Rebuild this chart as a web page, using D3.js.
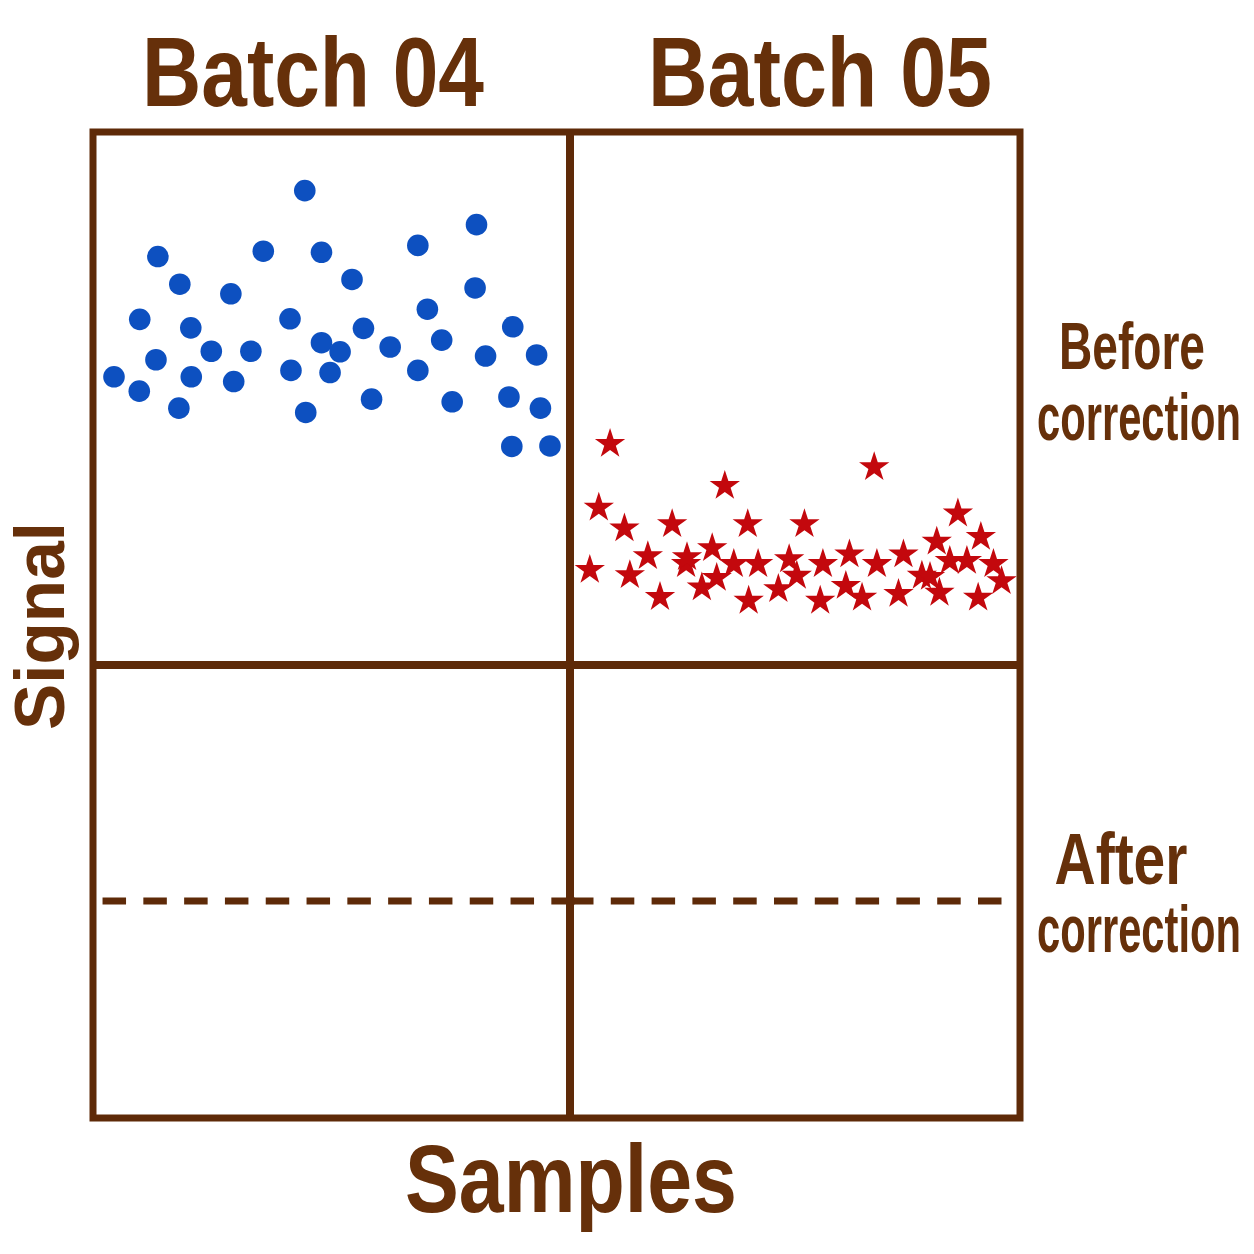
<!DOCTYPE html>
<html>
<head>
<meta charset="utf-8">
<script src="https://cdn.jsdelivr.net/npm/d3@7"></script>
<style>
  html, body { margin: 0; padding: 0; background: #fff; }
  svg { display: block; }
  .lbl { font-family: "Liberation Sans", Arial, sans-serif; font-weight: bold; fill: #66300a; }
</style>
</head>
<body>
<div id="chart"></div>
<script>
// batches (columns) and correction state (rows)
const batches = ['Batch 04', 'Batch 05']
const rowLabels = [['Before', 'correction'], ['After', 'correction']]

// Batch 04 before correction: [sample position 0-100 within batch, signal 0-100]
const batch04Before = [
  [44.4, 88.8], [80.4, 82.4], [68.1, 78.5], [13.6, 76.4], [35.7, 77.4],
  [47.9, 77.2], [54.3, 72.1], [18.2, 71.2], [28.9, 69.4], [80.1, 70.5],
  [70.1, 66.5], [9.8, 64.6], [41.3, 64.7], [20.5, 63.0], [56.7, 62.9],
  [88.0, 63.2], [73.1, 60.7], [47.9, 60.2], [51.8, 58.5], [62.3, 59.4],
  [24.8, 58.6], [33.1, 58.6], [13.2, 57.0], [82.3, 57.7], [93.0, 57.9],
  [4.4, 53.8], [20.6, 53.8], [41.5, 55.0], [49.7, 54.6], [68.1, 55.0],
  [9.7, 51.1], [29.5, 52.9], [58.4, 49.6], [75.3, 49.1], [87.2, 50.0],
  [93.8, 47.9], [18.0, 47.9], [44.6, 47.1], [87.8, 40.7], [95.8, 40.8]
]

// Batch 05 before correction
const batch05Before = [
  [8.9, 41.2], [67.6, 36.8], [34.4, 33.3], [6.4, 29.2], [12.1, 25.3],
  [22.7, 26.1], [39.5, 26.1], [52.1, 26.1], [86.2, 28.1], [91.3, 23.7],
  [81.5, 22.8], [4.4, 17.5], [17.3, 20.1], [31.6, 21.6], [25.8, 18.6],
  [13.3, 16.5], [36.4, 18.6], [41.8, 18.6], [48.7, 19.5], [56.2, 18.6],
  [62.1, 20.4], [68.2, 18.6], [74.1, 20.4], [84.4, 19.2], [88.2, 19.2],
  [94.1, 18.6], [78.2, 16.4], [20.0, 12.4], [29.3, 14.2], [32.6, 16.0],
  [39.7, 11.7], [46.3, 13.9], [50.4, 16.4], [55.6, 11.7], [61.3, 14.5],
  [64.9, 12.3], [73.0, 13.0], [82.1, 13.2], [90.7, 12.3], [95.9, 15.4],
  [26.0, 19.9], [80.0, 16.2]
]

// after correction both batches sit on one common level
const afterLevel = 47.7
// [batch, from sample position, to sample position]
const afterSegments = [['Batch 04', 2, 101], ['Batch 05', 0, 96]]

const W = 1254, H = 1254
const frameColor = '#5e2a08'
const colEdges = [93, 570, 1020]
const rowEdges = [132, 665, 1118]

const svg = d3.select('#chart').append('svg')
  .attr('width', W)
  .attr('height', H)

// x scale for each batch panel
const xScale = {}
batches.forEach((b, i) => {
  xScale[b] = d3.scaleLinear().domain([0, 100]).range([colEdges[i], colEdges[i + 1]])
})

// signal scale for each row
const yBefore = d3.scaleLinear().domain([0, 100]).range([663, 131])
const yAfter = d3.scaleLinear().domain([0, 100]).range([rowEdges[2], 663])

// dashed corrected level, one segment per batch
svg.append('g').selectAll('line')
  .data(afterSegments)
  .enter().append('line')
  .attr('x1', d => xScale[d[0]](d[1]))
  .attr('x2', d => xScale[d[0]](d[2]))
  .attr('y1', yAfter(afterLevel))
  .attr('y2', yAfter(afterLevel))
  .attr('stroke', frameColor)
  .attr('stroke-width', 7)
  .attr('stroke-dasharray', '23.5,17.3')

// panel frame
svg.append('rect')
  .attr('x', colEdges[0])
  .attr('y', rowEdges[0])
  .attr('width', colEdges[2] - colEdges[0])
  .attr('height', rowEdges[2] - rowEdges[0])
  .attr('fill', 'none')
  .attr('stroke', frameColor)
  .attr('stroke-width', 7)

svg.append('line')
  .attr('x1', colEdges[1]).attr('x2', colEdges[1])
  .attr('y1', rowEdges[0]).attr('y2', rowEdges[2])
  .attr('stroke', frameColor)
  .attr('stroke-width', 8)

svg.append('line')
  .attr('x1', colEdges[0]).attr('x2', colEdges[2])
  .attr('y1', rowEdges[1]).attr('y2', rowEdges[1])
  .attr('stroke', frameColor)
  .attr('stroke-width', 8)

// blue dots, batch 04
svg.append('g').selectAll('circle')
  .data(batch04Before)
  .enter().append('circle')
  .attr('cx', d => xScale['Batch 04'](d[0]))
  .attr('cy', d => yBefore(d[1]))
  .attr('r', 10.8)
  .attr('fill', '#0d50c0')

// red stars, batch 05
const star = d3.symbol().type(d3.symbolStar).size(285)
svg.append('g').selectAll('path')
  .data(batch05Before)
  .enter().append('path')
  .attr('d', star)
  .attr('transform', d => 'translate(' + xScale['Batch 05'](d[0]) + ',' + yBefore(d[1]) + ')')
  .attr('fill', '#c3080d')

/**
 * label - draws a bold text and squeezes it horizontally to the wanted width
 * (the reference uses a narrow face that is not installed)
 */
function label (t, x, y, size, width, rotate) {
  const el = svg.append('text')
    .attr('class', 'lbl')
    .attr('text-anchor', 'middle')
    .attr('font-size', size)
    .text(t)
  const w = el.node().getComputedTextLength()
  el.attr('transform', 'translate(' + x + ',' + y + ')' +
    (rotate ? ' rotate(' + rotate + ')' : '') +
    ' scale(' + (width / w) + ',1)')
  return el
}

// batch titles
const titlePos = [[313, 342], [820, 344]]
batches.forEach((b, i) => label(b, titlePos[i][0], 106, 98, titlePos[i][1]))

// row labels on the right
const rowLabelPos = [
  [[1132, 369, 146, 67], [1139, 440, 204, 66]],
  [[1121, 884, 133, 73], [1139, 952, 204, 66]]
]
rowLabels.forEach((lines, r) => {
  lines.forEach((t, k) => {
    const p = rowLabelPos[r][k]
    label(t, p[0], p[1], p[3], p[2])
  })
})

// axis titles
label('Signal', 64, 626, 71, 208, -90)
label('Samples', 571, 1212, 96, 332)
</script>
</body>
</html>
